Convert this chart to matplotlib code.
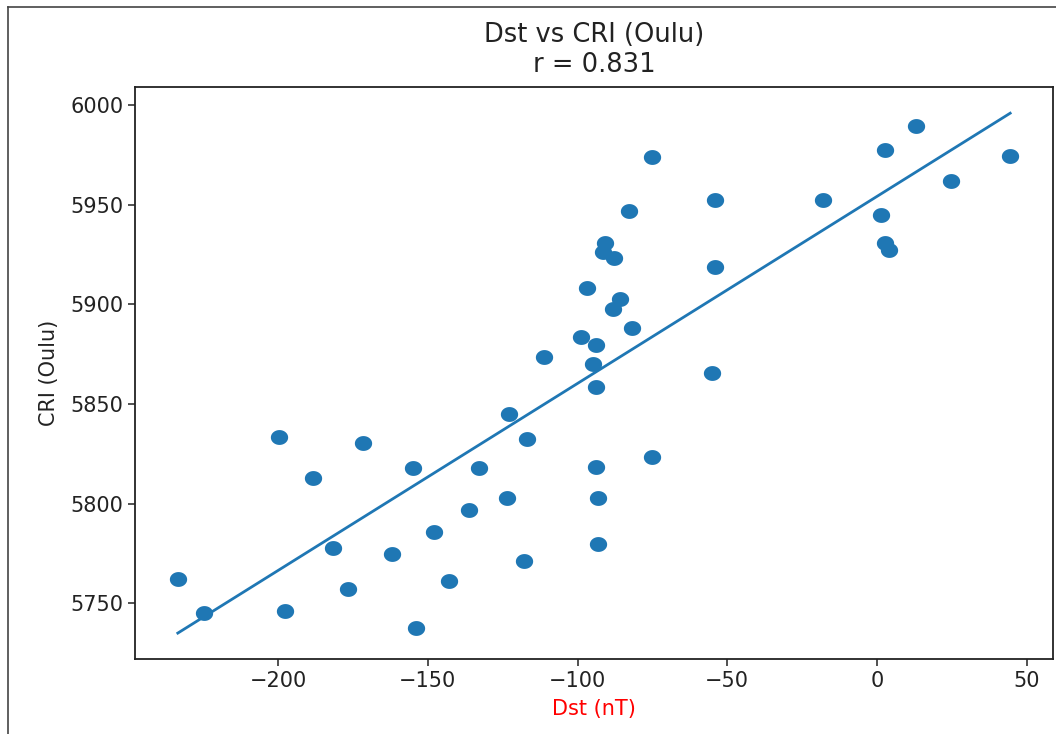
import numpy as np
import matplotlib
matplotlib.use("Agg")
import matplotlib.pyplot as plt
from matplotlib.path import Path
from matplotlib.lines import Line2D

# Data
dst = [-233.5, -224.6, -199.7, -188.5, -171.6, -154.8, -132.8, -123.0, -117.0, -111.2,
       -123.7, -136.1, -147.9, -181.7, -162.0, -118.0, -142.8, -176.7, -197.6, -154.1,
       -75.1, -54.1, -82.9, -90.8, -91.5, -87.9, -54.1, -97.0, -85.8, -88.1,
       -81.8, -98.8, -93.7, -94.8, -55.2, -93.7, -93.7, -75.1, -93.1, -93.1,
       12.9, 2.8, 44.5, 24.8, -18.1, 1.5, 2.8, 3.9]
cri = [5762.0, 5744.9, 5833.6, 5812.7, 5830.6, 5818.0, 5818.0, 5845.0, 5832.3, 5873.7,
       5803.0, 5797.0, 5785.9, 5777.6, 5774.7, 5771.0, 5761.3, 5757.0, 5746.3, 5737.4,
       5973.8, 5952.3, 5947.0, 5930.6, 5926.4, 5923.1, 5918.7, 5908.0, 5902.5, 5897.6,
       5888.1, 5883.6, 5879.7, 5870.0, 5865.7, 5858.4, 5818.5, 5823.2, 5803.0, 5779.7,
       5989.5, 5977.4, 5974.6, 5962.0, 5952.3, 5944.7, 5930.9, 5927.2]
r_text = "0.831"
title = "Dst vs CRI (Oulu)"
xlabel = "Dst (nT)"
ylabel = "CRI (Oulu)"
xticks = [-200, -150, -100, -50, 0, 50]
yticks = [5750, 5800, 5850, 5900, 5950, 6000]

x = np.array(dst)
y = np.array(cri)

fig = plt.figure(figsize=(10.56, 7.34), dpi=100)
ax = fig.add_axes([135 / 1056, 75 / 734, 918 / 1056, 572 / 734])

# slightly wide ellipse marker (reference is horizontally stretched)
t = np.linspace(0, 2 * np.pi, 60)
ell = Path(np.column_stack([np.cos(t), 0.86 * np.sin(t)]), closed=True)

color = "#1f77b4"
ax.scatter(x, y, s=155, marker=ell, color=color, linewidths=0)

m, b = np.polyfit(x, y, 1)
xl = np.array([x.min(), x.max()])
ax.plot(xl, m * xl + b, color=color, lw=2.0)

ax.set_xlim(-247.8, 58.8)
ax.set_ylim(5722, 6009)
ax.set_xticks(xticks)
ax.set_yticks(yticks)
ax.tick_params(labelsize=15, length=5, width=1.1, color="#222222", labelcolor="#222222")
for sp in ax.spines.values():
    sp.set_linewidth(1.3)
    sp.set_color("#222222")

ax.set_title(f"{title}\nr = {r_text}", fontsize=18.5, color="#222222", pad=11)
ax.set_xlabel(xlabel, color="red", fontsize=15, labelpad=6)
ax.set_ylabel(ylabel, color="#222222", fontsize=15, labelpad=8)

# screenshot-like frame around the figure
fig.add_artist(Line2D([8 / 1056, 8 / 1056], [0, 1 - 7 / 734], transform=fig.transFigure,
                      color="#444444", lw=1.2))
fig.add_artist(Line2D([8 / 1056, 1], [1 - 7 / 734, 1 - 7 / 734], transform=fig.transFigure,
                      color="#444444", lw=1.2))

fig.savefig("out.png", dpi=100)
